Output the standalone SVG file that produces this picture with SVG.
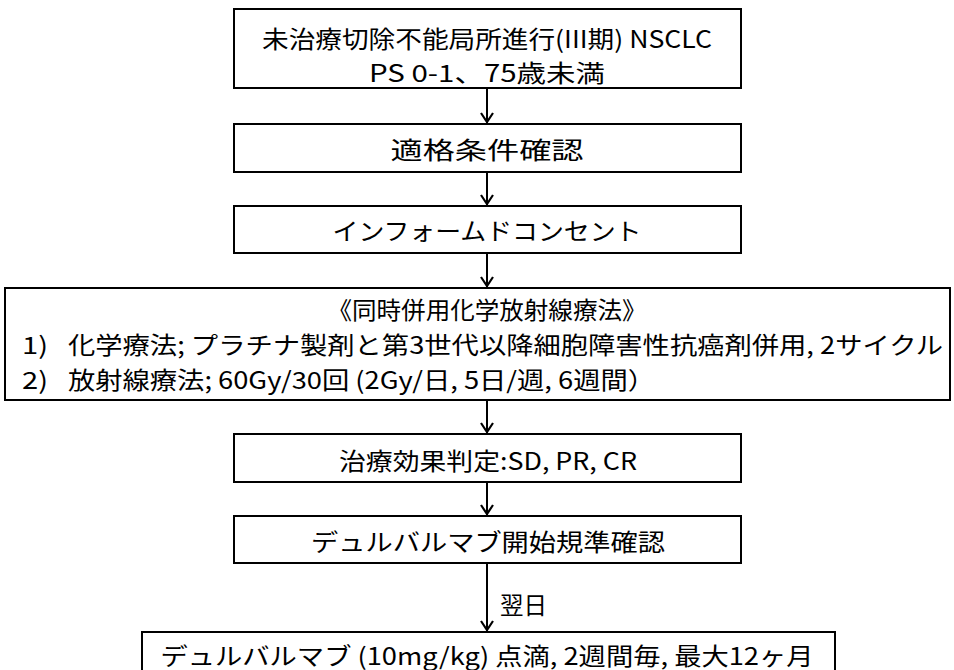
<svg xmlns="http://www.w3.org/2000/svg" width="954" height="670" viewBox="0 0 954 670">
<style>
.b{fill:#fff;stroke:#000;stroke-width:2}
.t{font-family:"Noto Sans CJK JP","Liberation Sans",sans-serif;font-size:24px;fill:#000;text-anchor:middle;dominant-baseline:central}
.l{text-anchor:start}
.c{stroke:#000;stroke-width:2;fill:none}
.h{stroke:#000;stroke-width:2.2;fill:none}
</style>
<rect width="954" height="670" fill="#fff"/>
<g id="connectors">
<line class="c" x1="487" y1="88" x2="487" y2="123"/>
<path class="h" d="M481,113 L487,122 L493,113"/>
<line class="c" x1="487" y1="172" x2="487" y2="205"/>
<path class="h" d="M481,195 L487,204 L493,195"/>
<line class="c" x1="487" y1="253" x2="487" y2="287"/>
<path class="h" d="M481,277 L487,286 L493,277"/>
<line class="c" x1="487" y1="400" x2="487" y2="433"/>
<path class="h" d="M481,423 L487,432 L493,423"/>
<line class="c" x1="487" y1="482" x2="487" y2="515"/>
<path class="h" d="M481,505 L487,514 L493,505"/>
<line class="c" x1="487" y1="563" x2="487" y2="631"/>
<path class="h" d="M481,621 L487,630 L493,621"/>
<text class="t l" x="500" y="603" textLength="47" lengthAdjust="spacingAndGlyphs">翌日</text>
</g>
<g id="n1">
<rect class="b" x="234" y="9" width="507" height="79"/>
<text class="t" x="487" y="37" textLength="450" lengthAdjust="spacingAndGlyphs">未治療切除不能局所進行(III期) NSCLC</text>
<text class="t" x="487" y="71" textLength="236" lengthAdjust="spacingAndGlyphs">PS 0-1、75歳未満</text>
</g>
<g id="n2">
<rect class="b" x="234" y="124" width="507" height="48"/>
<text class="t" x="487" y="148" textLength="193" lengthAdjust="spacingAndGlyphs">適格条件確認</text>
</g>
<g id="n3">
<rect class="b" x="234" y="206" width="507" height="47"/>
<text class="t" x="487" y="229" textLength="309" lengthAdjust="spacingAndGlyphs">インフォームドコンセント</text>
</g>
<g id="n4">
<rect class="b" x="5" y="288" width="945" height="112"/>
<text class="t" x="487" y="308" textLength="319" lengthAdjust="spacingAndGlyphs">《同時併用化学放射線療法》</text>
<text class="t l" x="22" y="343" textLength="26" lengthAdjust="spacingAndGlyphs">1)</text>
<text class="t l" x="68" y="343" textLength="875" lengthAdjust="spacingAndGlyphs">化学療法; プラチナ製剤と第3世代以降細胞障害性抗癌剤併用, 2サイクル</text>
<text class="t l" x="22" y="378" textLength="26" lengthAdjust="spacingAndGlyphs">2)</text>
<text class="t l" x="68" y="378" textLength="587" lengthAdjust="spacingAndGlyphs">放射線療法; 60Gy/30回 (2Gy/日, 5日/週, 6週間）</text>
</g>
<g id="n5">
<rect class="b" x="234" y="434" width="507" height="48"/>
<text class="t" x="488" y="459" textLength="298" lengthAdjust="spacingAndGlyphs">治療効果判定:SD, PR, CR</text>
</g>
<g id="n6">
<rect class="b" x="234" y="516" width="507" height="47"/>
<text class="t" x="488" y="540" textLength="354" lengthAdjust="spacingAndGlyphs">デュルバルマブ開始規準確認</text>
</g>
<g id="n7">
<rect class="b" x="142" y="632" width="693" height="50"/>
<text class="t" x="487" y="654" textLength="653" lengthAdjust="spacingAndGlyphs">デュルバルマブ (10mg/kg) 点滴, 2週間毎, 最大12ヶ月</text>
</g>
</svg>
